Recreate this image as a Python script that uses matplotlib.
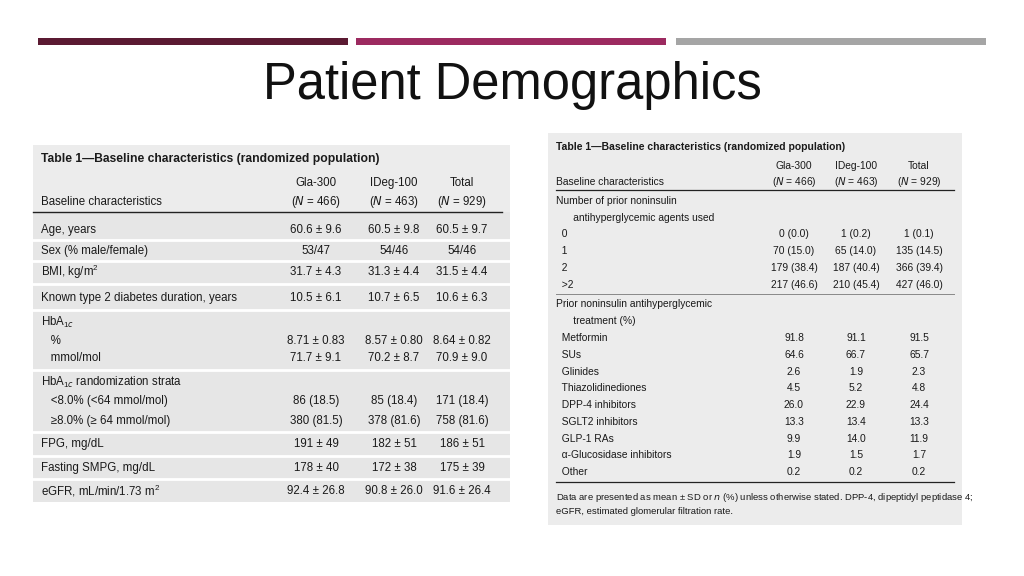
import matplotlib.pyplot as plt
from matplotlib.patches import Rectangle

plt.rcParams['font.family'] = 'Liberation Sans'
plt.rcParams['mathtext.fontset'] = 'custom'
plt.rcParams['mathtext.rm'] = 'Liberation Sans'

# left table
left_labels = ['Age, years', 'Sex (% male/female)', 'BMI, kg/m$^2$', 'Known type 2 diabetes duration, years',
               'HbA$_{1c}$', '   %', '   mmol/mol', 'HbA$_{1c}$ randomization strata',
               '   <8.0% (<64 mmol/mol)', '   ≥8.0% (≥ 64 mmol/mol)', 'FPG, mg/dL', 'Fasting SMPG, mg/dL',
               'eGFR, mL/min/1.73 m$^2$']
left_gla = ['60.6 ± 9.6', '53/47', '31.7 ± 4.3', '10.5 ± 6.1', '', '8.71 ± 0.83', '71.7 ± 9.1', '',
            '86 (18.5)', '380 (81.5)', '191 ± 49', '178 ± 40', '92.4 ± 26.8']
left_ideg = ['60.5 ± 9.8', '54/46', '31.3 ± 4.4', '10.7 ± 6.5', '', '8.57 ± 0.80', '70.2 ± 8.7', '',
             '85 (18.4)', '378 (81.6)', '182 ± 51', '172 ± 38', '90.8 ± 26.0']
left_total = ['60.5 ± 9.7', '54/46', '31.5 ± 4.4', '10.6 ± 6.3', '', '8.64 ± 0.82', '70.9 ± 9.0', '',
              '171 (18.4)', '758 (81.6)', '186 ± 51', '175 ± 39', '91.6 ± 26.4']
left_y = [230, 251, 272, 298, 322, 341, 358, 382, 401, 421, 444, 468, 491]
left_gaps = [240, 261, 284, 310, 370, 432, 456, 479]

# right table
right_labels = ['Number of prior noninsulin', '      antihyperglycemic agents used', '  0', '  1', '  2', '  >2',
                'Prior noninsulin antihyperglycemic', '      treatment (%)', '  Metformin', '  SUs', '  Glinides',
                '  Thiazolidinediones', '  DPP-4 inhibitors', '  SGLT2 inhibitors', '  GLP-1 RAs',
                '  α-Glucosidase inhibitors', '  Other']
right_gla = ['', '', '0 (0.0)', '70 (15.0)', '179 (38.4)', '217 (46.6)', '', '', '91.8', '64.6', '2.6', '4.5',
             '26.0', '13.3', '9.9', '1.9', '0.2']
right_ideg = ['', '', '1 (0.2)', '65 (14.0)', '187 (40.4)', '210 (45.4)', '', '', '91.1', '66.7', '1.9', '5.2',
              '22.9', '13.4', '14.0', '1.5', '0.2']
right_total = ['', '', '1 (0.1)', '135 (14.5)', '366 (39.4)', '427 (46.0)', '', '', '91.5', '65.7', '2.3', '4.8',
               '24.4', '13.3', '11.9', '1.7', '0.2']
right_y = [201, 218, 234, 251, 268, 285, 304, 321, 338, 355, 372, 388, 405, 422, 439, 455, 472]

fig = plt.figure(figsize=(10.24, 5.76), dpi=100)
ax = fig.add_axes([0, 0, 1, 1])
ax.set_xlim(0, 1024)
ax.set_ylim(576, 0)
ax.axis('off')

# header bars
for x0, x1, col in [(38, 348, '#5b1a32'), (356, 666, '#9c2a60'), (676, 986, '#a5a5a5')]:
    ax.add_patch(Rectangle((x0, 38), x1 - x0, 7, color=col, lw=0))
ax.text(512, 85, 'Patient Demographics', ha='center', va='center', fontsize=36.5, color='#111111')

fs = 8.3
txt = '#1a1a1a'

# left table
ax.add_patch(Rectangle((33, 145), 477, 357, color='#ececec', lw=0))
ax.add_patch(Rectangle((33, 212), 477, 290, color='#e6e6e6', lw=0))
for g in left_gaps:
    ax.plot([33, 510], [g, g], color='white', lw=2)
ax.plot([33, 502], [212, 212], color='#222222', lw=1)
ax.text(41, 159, 'Table 1—Baseline characteristics (randomized population)', fontsize=8.7,
        fontweight='bold', va='center', color=txt)
ax.text(41, 202, 'Baseline characteristics', fontsize=fs, va='center', color=txt)
for xc, name, n in [(316, 'Gla-300', '466'), (394, 'IDeg-100', '463'), (462, 'Total', '929')]:
    ax.text(xc, 183, name, ha='center', va='center', fontsize=fs, color=txt)
    ax.text(xc, 202, f'($N$ = {n})', ha='center', va='center', fontsize=fs, color=txt)
for y, lab, a, b, c in zip(left_y, left_labels, left_gla, left_ideg, left_total):
    ax.text(41, y, lab, va='center', fontsize=fs, color=txt)
    ax.text(316, y, a, ha='center', va='center', fontsize=fs, color=txt)
    ax.text(394, y, b, ha='center', va='center', fontsize=fs, color=txt)
    ax.text(462, y, c, ha='center', va='center', fontsize=fs, color=txt)

# right table
fs2 = 7.4
ax.add_patch(Rectangle((548, 133), 414, 392, color='#ececec', lw=0))
ax.text(556, 147, 'Table 1—Baseline characteristics (randomized population)', fontsize=7.5,
        fontweight='bold', va='center', color=txt)
ax.text(556, 182, 'Baseline characteristics', fontsize=fs2, va='center', color=txt)
for xc, name, n in [(794, 'Gla-300', '466'), (856, 'IDeg-100', '463'), (919, 'Total', '929')]:
    ax.text(xc, 166, name, ha='center', va='center', fontsize=fs2, color=txt)
    ax.text(xc, 182, f'($N$ = {n})', ha='center', va='center', fontsize=fs2, color=txt)
ax.plot([556, 954], [190, 190], color='#222222', lw=0.9)
ax.plot([556, 954], [294, 294], color='#888888', lw=0.7)
ax.plot([556, 954], [482, 482], color='#222222', lw=0.9)
for y, lab, a, b, c in zip(right_y, right_labels, right_gla, right_ideg, right_total):
    ax.text(556, y, lab, va='center', fontsize=fs2, color=txt)
    ax.text(794, y, a, ha='center', va='center', fontsize=fs2, color=txt)
    ax.text(856, y, b, ha='center', va='center', fontsize=fs2, color=txt)
    ax.text(919, y, c, ha='center', va='center', fontsize=fs2, color=txt)
ax.text(556, 497, 'Data are presented as mean ± SD or $n$ (%) unless otherwise stated. DPP-4, dipeptidyl peptidase 4;',
        va='center', fontsize=6.8, color=txt)
ax.text(556, 512, 'eGFR, estimated glomerular filtration rate.', va='center', fontsize=6.8, color=txt)

fig.savefig('out.png', dpi=100, facecolor='white')
